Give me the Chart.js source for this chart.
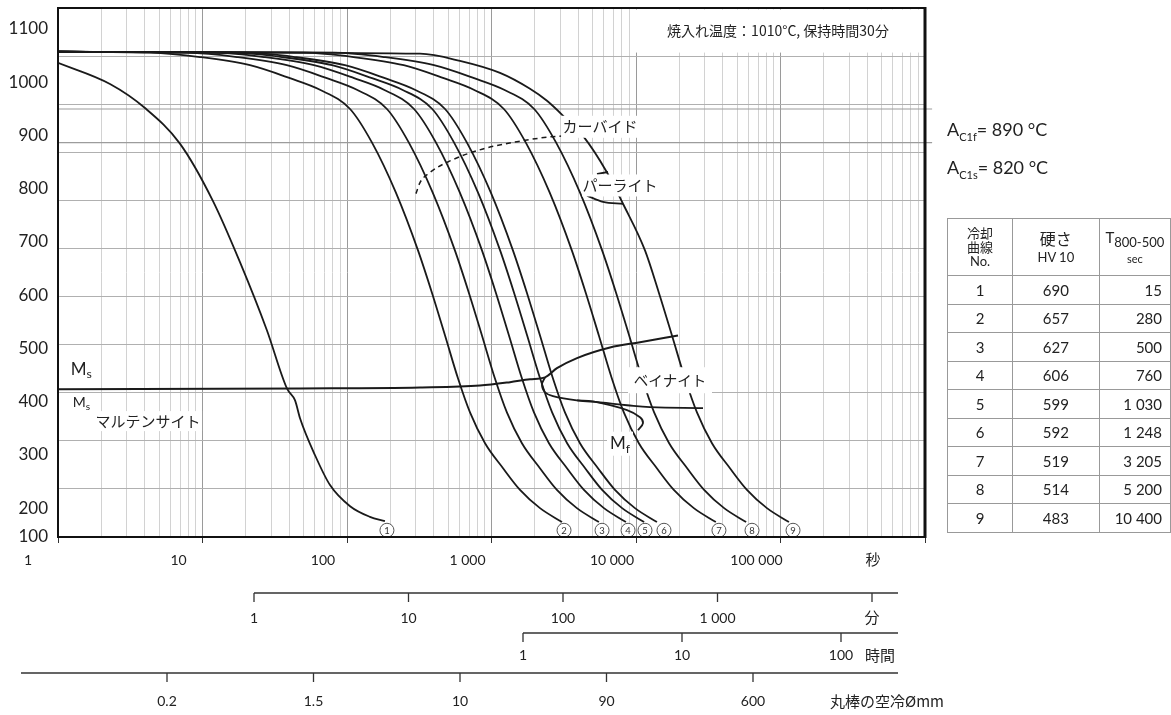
<!DOCTYPE html>
<html lang="ja">
<head>
<meta charset="utf-8">
<script src="https://cdn.jsdelivr.net/npm/chart.js@4.4.1/dist/chart.umd.min.js"></script>
<style>
  html, body { margin: 0; padding: 0; background: #fff; }
  #wrap { position: relative; width: 1171px; height: 715px; overflow: hidden; }
  #cct { position: absolute; left: 0; top: 0; }
  .ac { position: absolute; left: 947px; font: 18px Lato, sans-serif; color: #222; white-space: nowrap; }
  .ac sub { font-size: 11px; vertical-align: -5px; }
  #tbl { position: absolute; left: 947px; top: 218px; border-collapse: collapse; color: #222;
         font-family: Lato, "Noto Sans CJK JP", sans-serif; }
  #tbl td { border: 1px solid #999; padding: 0; text-align: center; font-size: 15px; height: 27.5px; }
  #tbl td.r { text-align: right; padding-right: 8px; }
  #tbl tr.hd td { height: 56px; line-height: 1.1; }
  .jp { font-family: "Noto Sans CJK JP", sans-serif; }
</style>
</head>
<body>
<div id="wrap">
  <canvas id="cct" width="1171" height="715"></canvas>
  <div class="ac" style="top:118px">A<sub>C1f</sub>= 890 °C</div>
  <div class="ac" style="top:156px">A<sub>C1s</sub>= 820 °C</div>
  <table id="tbl"></table>
</div>
<script>
// axes
const yTickValues = [100, 200, 300, 400, 500, 600, 700, 800, 900, 1000, 1100];
const xTickValues = [1, 10, 100, 1000, 10000, 100000];
const xTickLabels = ['1', '10', '100', '1 000', '10 000', '100 000'];
const minuteTicks = [1, 10, 100, 1000, 10000];
const minuteLabels = ['1', '10', '100', '1 000', ''];
const hourTicks = [1, 10, 100];
const hourLabels = ['1', '10', '100'];
const diameterLabels = ['0.2', '1.5', '10', '90', '600'];

// cooling curves (time s, temperature °C)
const tempStd = [1109, 1107, 1098, 1081, 1054, 1030, 990, 920, 816, 696, 608, 519, 430, 359, 295, 243, 198, 160, 131];
const t1 = [1, 2.29, 4.0, 6.98, 11.8, 18.2, 27.9, 38.4, 43.7, 47.3, 60.1, 76.3, 105, 144, 183];
const T1 = [1086, 1042, 992, 918, 799, 671, 530, 409, 384, 347, 270, 208, 164, 142, 133];
const t2 = [1, 4.33, 9.61, 21.3, 40.3, 65, 105, 149, 218, 310, 387, 477, 586, 710, 902, 1202, 1575, 2166, 3076];
const t3 = [1, 7.8, 17.3, 38.3, 72.5, 117, 189, 268, 392, 558, 697, 859, 1055, 1278, 1624, 2164, 2835, 3899, 5537];
const t4 = [1, 12, 26.6, 59, 112, 180, 291, 413, 604, 859, 1072, 1321, 1623, 1967, 2499, 3330, 4363, 6000, 8521];
const t5 = [1, 16, 35.5, 78.8, 149, 241, 389, 551, 807, 1147, 1432, 1765, 2168, 2627, 3337, 4447, 5828, 8014, 11381];
const t6 = [1, 19.7, 43.6, 96.7, 183, 295, 477, 676, 990, 1407, 1757, 2166, 2660, 3223, 4095, 5457, 7151, 9834, 13965];
const t7 = [1, 50, 111, 247, 467, 754, 1218, 1728, 2529, 3596, 4489, 5533, 6798, 8236, 10463, 13943, 18270, 25126, 35682];
const t8 = [1, 81, 180, 400, 758, 1222, 1974, 2801, 4098, 5828, 7276, 8968, 11017, 13348, 16958, 22598, 29610, 40721, 57829];
const t9 = [1, 320, 605, 1145, 1847, 2421, 3226, 4297, 6300, 8130, 11540, 14396, 17744, 21799, 26412, 33554, 44714, 58590, 80575, 114427];
const T9 = [1109, 1105, 1090, 1065, 1032, 1007, 972, 934, 858, 793, 696, 608, 519, 430, 359, 295, 243, 198, 160, 131];

// transformation lines
const carbideTime = [300, 320, 375, 516, 873, 1501, 2541, 4297];
const carbideTemp = [814, 837, 858, 882, 907, 922, 932, 936];
const pearliteStartTime = [5370, 6400];
const pearliteStartTemp = [855, 859];
const pearliteEndTime = [4580, 5915, 8130];
const pearliteEndTemp = [810, 797, 793];
const msTime = [1, 47.3, 320, 832, 1343, 1847, 2345, 2838, 3906, 6610, 10660, 19530];
const msTemp = [407, 409, 411, 415, 422, 428, 432, 451, 472, 494, 505, 519];
const bainiteEndTime = [2345, 2236, 2345, 2665, 3906, 5636, 8670, 12500, 29090];
const bainiteEndTemp = [432, 417, 401, 393, 384, 380, 374, 370, 368];
const mfTime = [3906, 5040, 8670, 10660, 11180, 10320];
const mfTemp = [384, 382, 364, 349, 337, 322];
const acLineTemps = [990, 920];
const markerTimes = [189, 3176, 5820, 8810, 11540, 15620, 37500, 63500, 122100];
const markerTemp = 114;

// table
const tableNo = [1, 2, 3, 4, 5, 6, 7, 8, 9];
const hardness = [690, 657, 627, 606, 599, 592, 519, 514, 483];
const t85 = ['15', '280', '500', '760', '1 030', '1 248', '3 205', '5 200', '10 400'];

const notes = [
  { text: '焼入れ温度：1010°C, 保持時間30分', t: 96100, T: 1152, w: 284, h: 43, size: 14 },
  { text: 'カーバイド', t: 5640, T: 953, w: 78, h: 22, size: 15 },
  { text: 'パーライト', t: 7750, T: 831, w: 76, h: 22, size: 15 },
  { text: 'ベイナイト', t: 17190, T: 426, w: 84, h: 26, size: 14.5 },
  { text: 'マルテンサイト', t: 4.2, T: 341, w: 108, h: 20, size: 15 },
  { text: 'M', sub: 's', t: 1.45, T: 449, w: 0, h: 0, size: 17 },
  { text: 'M', sub: 's', t: 1.45, T: 380, w: 38, h: 16, size: 14 },
  { text: 'M', sub: 'f', t: 7750, T: 294, w: 26, h: 24, size: 17 }
];

const tbl = document.getElementById('tbl');
tbl.innerHTML =
  '<tr class="hd"><td style="width:65px;font-size:13px"><span class="jp">冷却<br>曲線</span><br>No.</td>' +
  '<td style="width:87px"><span class="jp" style="font-size:16px">硬さ</span><br><span style="font-size:13px">HV 10</span></td>' +
  '<td style="width:71px"><span style="font-size:15px">T<sub style="font-size:13px">800-500</sub></span><br><span style="font-size:11px">sec</span></td></tr>' +
  tableNo.map((n, i) => `<tr><td>${n}</td><td>${hardness[i]}</td><td class="r">${t85[i]}</td></tr>`).join('');

const pts = (ts, Ts) => ts.map((t, i) => ({ x: t, y: Array.isArray(Ts) ? Ts[i] : Ts }));

const xGrid = [];
for (let e = 0; e < 6; e++) for (let m = 1; m < 10; m++) xGrid.push(m * Math.pow(10, e));
xGrid.push(1e6);

const ink = '#1a1a1a';
const curve = (data) => ({ data, borderColor: ink, borderWidth: 1.8, pointRadius: 0, cubicInterpolationMode: 'monotone', fill: false });
const free = (data) => ({ data, borderColor: ink, borderWidth: 1.8, pointRadius: 0, tension: 0.4, fill: false });

const datasets = [
  curve(pts(t1, T1)),
  ...[t2, t3, t4, t5, t6, t7, t8].map(t => curve(pts(t, tempStd))),
  curve(pts(t9, T9)),
  Object.assign(curve(pts(carbideTime, carbideTemp)), { borderDash: [5, 4], borderWidth: 1.5 }),
  curve(pts(pearliteStartTime, pearliteStartTemp)),
  curve(pts(pearliteEndTime, pearliteEndTemp)),
  Object.assign(curve(pts(msTime, msTemp)), { borderWidth: 2 }),
  free(pts(bainiteEndTime, bainiteEndTemp)),
  free(pts(mfTime, mfTemp)),
  ...acLineTemps.map(T => ({ data: pts([1, 1.12e6], T), borderColor: '#9c9c9c', borderWidth: 1.2, pointRadius: 0, clip: false }))
];
const markerIndex = datasets.length;
datasets.push({
  data: pts(markerTimes, markerTemp), showLine: false, pointRadius: 7, pointHoverRadius: 7,
  pointBackgroundColor: '#fff', pointBorderColor: '#555', pointBorderWidth: 1
});

function drawSub(ctx, main, sub, x, y, size) {
  ctx.font = `${size}px Lato, sans-serif`;
  const w1 = ctx.measureText(main).width;
  ctx.font = `${size * 0.72}px Lato, sans-serif`;
  const w2 = ctx.measureText(sub).width;
  const x0 = x - (w1 + w2) / 2;
  ctx.textAlign = 'left';
  ctx.font = `${size}px Lato, sans-serif`;
  ctx.fillText(main, x0, y);
  ctx.font = `${size * 0.72}px Lato, sans-serif`;
  ctx.fillText(sub, x0 + w1, y + size * 0.3);
}

const decor = {
  id: 'decor',
  afterDatasetsDraw(chart) {
    const { ctx } = chart;
    const x = chart.scales.x, y = chart.scales.y;
    ctx.save();
    notes.forEach(a => {
      const px = x.getPixelForValue(a.t), py = y.getPixelForValue(a.T);
      if (a.w) { ctx.fillStyle = '#fff'; ctx.fillRect(px - a.w / 2, py - a.h / 2, a.w, a.h); }
      ctx.fillStyle = '#222';
      ctx.textBaseline = 'middle';
      if (a.sub) drawSub(ctx, a.text, a.sub, px, py, a.size);
      else {
        ctx.textAlign = 'center';
        ctx.font = `${a.size}px "Noto Sans CJK JP", sans-serif`;
        ctx.fillText(a.text, px, py);
      }
    });
    ctx.fillStyle = '#333';
    ctx.font = '9.5px Lato, sans-serif';
    ctx.textAlign = 'center';
    ctx.textBaseline = 'middle';
    chart.getDatasetMeta(markerIndex).data.forEach((p, i) => ctx.fillText(String(i + 1), p.x, p.y + 0.5));
    ctx.restore();
  },
  afterDraw(chart) {
    const { ctx, chartArea: a } = chart;
    const x = chart.scales.x;
    ctx.save();
    // frame
    ctx.strokeStyle = '#111';
    ctx.lineWidth = 2;
    ctx.beginPath();
    ctx.moveTo(a.right, a.top); ctx.lineTo(a.left, a.top); ctx.lineTo(a.left, a.bottom); ctx.lineTo(a.right, a.bottom);
    ctx.stroke();
    ctx.lineWidth = 3;
    ctx.beginPath(); ctx.moveTo(a.right, a.top - 1); ctx.lineTo(a.right, a.bottom + 1); ctx.stroke();

    // seconds labels (set a little left of their grid lines, as in the original)
    ctx.fillStyle = '#222';
    ctx.textBaseline = 'middle';
    ctx.textAlign = 'center';
    ctx.font = '14px Lato, sans-serif';
    xTickValues.forEach((v, i) => ctx.fillText(xTickLabels[i], x.getPixelForValue(v) - (i === 0 ? 30 : 24), 560));
    ctx.font = '15px "Noto Sans CJK JP", sans-serif';
    ctx.fillText('秒', 873, 559);

    // extra axes: minutes, hours, bar diameter
    ctx.strokeStyle = '#333';
    ctx.lineWidth = 1.3;
    const axis = (yLine, x0, x1, positions, labels, yLab) => {
      ctx.beginPath();
      ctx.moveTo(x0, yLine); ctx.lineTo(x1, yLine);
      positions.forEach(p => { ctx.moveTo(p, yLine); ctx.lineTo(p, yLine + 9); });
      ctx.stroke();
      ctx.font = '14px Lato, sans-serif';
      ctx.textAlign = 'center';
      positions.forEach((p, i) => ctx.fillText(labels[i], p, yLab));
    };
    axis(593, 254, 898, minuteTicks.map(v => 254 + 154.5 * Math.log10(v)), minuteLabels, 618);
    axis(633, 523, 898, hourTicks.map(v => 523 + 159 * Math.log10(v)), hourLabels, 655);
    axis(673, 21, 898, diameterLabels.map((_, i) => 167 + 146.5 * i), diameterLabels, 701);
    ctx.font = '15px "Noto Sans CJK JP", sans-serif';
    ctx.textAlign = 'center';
    ctx.fillText('分', 872, 617);
    ctx.fillText('時間', 880, 655);
    ctx.textAlign = 'left';
    ctx.fillText('丸棒の空冷Ømm', 830, 701);
    ctx.restore();
  }
};

const noPad = s => { s.paddingTop = 0; s.paddingBottom = 0; s.paddingLeft = 0; s.paddingRight = 0; };

new Chart(document.getElementById('cct'), {
  type: 'line',
  data: { datasets },
  plugins: [decor],
  options: {
    responsive: false,
    animation: false,
    events: [],
    layout: { padding: { left: 0, right: 246, top: 7, bottom: 178 } },
    plugins: { legend: { display: false }, tooltip: { enabled: false } },
    scales: {
      x: {
        type: 'logarithmic', min: 1, max: 1e6, position: 'bottom',
        afterBuildTicks: s => { s.ticks = xGrid.map(v => ({ value: v, major: Number.isInteger(Math.round(Math.log10(v) * 1e6) / 1e6) })); },
        afterFit: s => { s.height = 0; noPad(s); },
        ticks: { display: false, autoSkip: false },
        border: { display: false },
        grid: {
          color: c => (c.tick && c.tick.major ? '#9a9a9a' : '#d2d2d2'),
          lineWidth: 1, drawTicks: true, tickLength: 6,
          tickColor: c => (c.tick && c.tick.major ? '#333' : 'rgba(0,0,0,0)')
        }
      },
      y: {
        type: 'linear', min: 100, max: 1200, position: 'left',
        ticks: { display: false, stepSize: 100 },
        afterFit: s => { s.width = 0; noPad(s); },
        border: { display: false },
        grid: { color: '#b0b0b0', lineWidth: 1, drawTicks: false }
      },
      yl: {
        type: 'linear', min: 145.6, max: 1139.4, position: 'left',
        afterBuildTicks: s => { s.ticks = yTickValues.map(v => ({ value: Math.max(v, s.min) })); },
        afterFit: s => { s.width = 58; noPad(s); },
        grid: { display: false, drawTicks: false },
        border: { display: false },
        ticks: {
          autoSkip: false, padding: 10, color: '#222',
          font: { family: 'Lato, sans-serif', size: 17 },
          callback: (v, i) => String(yTickValues[i])
        }
      }
    }
  }
});
</script>
</body>
</html>
